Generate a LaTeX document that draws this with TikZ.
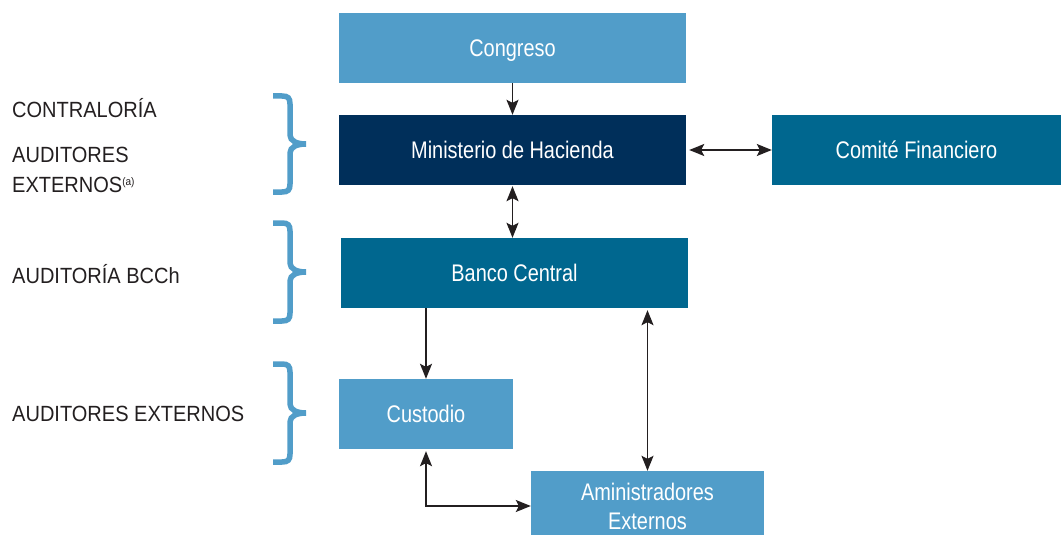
\documentclass[tikz,border=0pt]{standalone}
\usepackage{fontspec}
\setmainfont{Liberation Sans}[FakeStretch=0.83]
\newfontfamily\labelfont{Liberation Sans}[FakeStretch=0.91]
\usetikzlibrary{arrows.meta}
\definecolor{lightblu}{RGB}{81,157,201}
\definecolor{navyblu}{RGB}{0,47,90}
\definecolor{tealblu}{RGB}{0,103,143}
\definecolor{labelgray}{RGB}{35,31,32}
\begin{document}
\begin{tikzpicture}[x=1pt,y=-1pt,
    box/.style={minimum height=70pt, inner sep=0pt, text=white, align=center,
      text depth=0pt, font=\fontsize{24}{29}\selectfont},
    tip/.tip={Stealth[length=15pt,width=12pt,inset=3pt]},
    arr/.style={line width=1.3pt, labelgray, -tip},
    barr/.style={arr, tip-tip},
    lbl/.style={anchor=west, inner sep=0pt, text=labelgray, align=left,
      font=\labelfont\fontsize{22}{30}\selectfont}]
  \useasboundingbox (0,0) rectangle (1061,535);
  \node[box, fill=lightblu, minimum width=347pt] (congreso) at (512.5,48) {Congreso};
  \node[box, fill=navyblu, minimum width=347pt] (hacienda) at (512.5,150) {Ministerio de Hacienda};
  \node[box, fill=tealblu, minimum width=289pt] (comite) at (916.5,150) {Comité Financiero};
  \node[box, fill=tealblu, minimum width=347pt] (banco) at (514.5,273) {Banco Central};
  \node[box, fill=lightblu, minimum width=174pt] (custodio) at (426,414) {Custodio};
  \node[box, fill=lightblu, minimum width=233pt] (admin) at (647.5,506) {Aministradores\\Externos};
  \draw[arr] (congreso.south) -- (hacienda.north);
  \draw[barr, shorten <=1pt] (hacienda.south) -- (hacienda.south |- banco.north);
  \draw[barr, shorten <=3pt] (hacienda.east) -- (comite.west);
  \draw[arr] (custodio.north |- banco.south) -- (custodio.north);
  \draw[barr, shorten <=2pt] (admin.north |- banco.south) -- (admin.north);
  \draw[barr, shorten <=2pt] (custodio.south) |- (admin.west);
  \node[lbl] (contraloria) at (12,108) {CONTRALORÍA};
  \node[lbl] (audext) at (12,170) {AUDITORES\\EXTERNOS\raisebox{7pt}{\fontsize{11}{11}\selectfont(a)}};
  \node[lbl] (audbcch) at (12,274) {AUDITORÍA BCCh};
  \node[lbl] (audext2) at (12,414) {AUDITORES EXTERNOS};
  \foreach \a/\m/\b in {96/144/192, 223/272/321, 364/413/462} {
    \draw[lightblu, line width=5.5pt]
      (273,\a) -- (282,\a) .. controls (288,\a) and (290,\a+2) .. (290,\a+8)
      -- (290,\m-9) .. controls (290,\m-3) and (297,\m) .. (306,\m)
      .. controls (297,\m) and (290,\m+3) .. (290,\m+9)
      -- (290,\b-8) .. controls (290,\b-2) and (288,\b) .. (282,\b) -- (273,\b);
  }
\end{tikzpicture}
\end{document}
